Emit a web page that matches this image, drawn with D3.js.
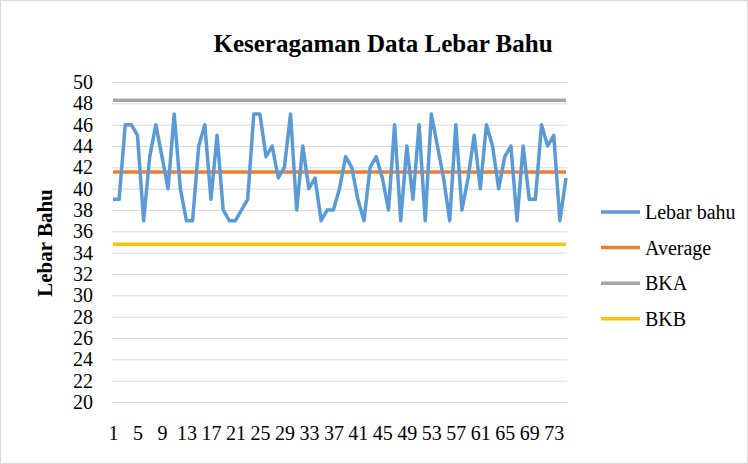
<!DOCTYPE html>
<html>
<head>
<meta charset="utf-8">
<script src="https://cdn.jsdelivr.net/npm/d3@7"></script>
<style>
  body { margin: 0; background: #fff; }
  svg text { font-family: "Liberation Serif", "Times New Roman", serif; fill: #000; }
</style>
</head>
<body>
<svg id="chart"></svg>
<script>
// data
const categories = [
  1, 2, 3, 4, 5, 6, 7, 8, 9, 10, 11, 12, 13, 14, 15, 16, 17, 18, 19, 20,
  21, 22, 23, 24, 25, 26, 27, 28, 29, 30, 31, 32, 33, 34, 35, 36, 37, 38, 39, 40,
  41, 42, 43, 44, 45, 46, 47, 48, 49, 50, 51, 52, 53, 54, 55, 56, 57, 58, 59, 60,
  61, 62, 63, 64, 65, 66, 67, 68, 69, 70, 71, 72, 73, 74, 75
];
const lebarBahu = [
  39, 39, 46, 46, 45, 37, 43, 46, 43, 40,
  47, 40, 37, 37, 44, 46, 39, 45, 38, 37,
  37, 38, 39, 47, 47, 43, 44, 41, 42, 47,
  38, 44, 40, 41, 37, 38, 38, 40, 43, 42,
  39, 37, 42, 43, 41, 38, 46, 37, 44, 39,
  46, 37, 47, 44, 41, 37, 46, 38, 41, 45,
  40, 46, 44, 40, 43, 44, 37, 44, 39, 39,
  46, 44, 45, 37, 41
];
const average = 41.56;
const bka = 48.3;
const bkb = 34.8;
const yTicks = [20, 22, 24, 26, 28, 30, 32, 34, 36, 38, 40, 42, 44, 46, 48, 50];
const xTickLabels = [1, 5, 9, 13, 17, 21, 25, 29, 33, 37, 41, 45, 49, 53, 57, 61, 65, 69, 73];

const series = [
  { name: 'Lebar bahu', color: '#5B9BD5', values: lebarBahu },
  { name: 'Average',    color: '#ED7D31', values: categories.map(() => average) },
  { name: 'BKA',        color: '#A5A5A5', values: categories.map(() => bka) },
  { name: 'BKB',        color: '#FFC000', values: categories.map(() => bkb) }
];

const W = 748, H = 464;
const plot = { left: 113, right: 566, top: 82, bottom: 402 };
const serif = '"Liberation Serif", "Times New Roman", serif';

const svg = d3.select('#chart').attr('width', W).attr('height', H);

svg.append('rect')
  .attr('x', 0.5).attr('y', 0.5)
  .attr('width', W - 1).attr('height', H - 1)
  .attr('fill', '#fff').attr('stroke', '#d9d9d9');

const x = d3.scalePoint().domain(categories).range([plot.left, plot.right]).padding(0);
const y = d3.scaleLinear().domain([20, 50]).range([plot.bottom, plot.top]);

// gridlines + y labels
const yAxis = svg.append('g')
  .attr('transform', `translate(${plot.left - 1},0)`)
  .call(d3.axisLeft(y).tickValues(yTicks).tickSize(-(plot.right - plot.left + 2)).tickPadding(19))
  .attr('font-family', serif);
yAxis.select('.domain').remove();
yAxis.selectAll('line').attr('stroke', '#d9d9d9').attr('stroke-width', 1);
yAxis.selectAll('text').style('font-size', '20px').attr('dy', '0.33em');

// x labels
const xAxis = svg.append('g')
  .attr('transform', `translate(0,${plot.bottom})`)
  .call(d3.axisBottom(x).tickValues(xTickLabels).tickSize(0).tickPadding(24))
  .attr('font-family', serif);
xAxis.select('.domain').remove();
xAxis.selectAll('text').style('font-size', '20px');

// lines
const line = d3.line()
  .x((d, i) => x(categories[i]))
  .y(d => y(d));

svg.append('g').selectAll('path')
  .data(series.slice().reverse())
  .enter()
  .append('path')
  .attr('d', d => line(d.values))
  .attr('fill', 'none')
  .attr('stroke', d => d.color)
  .attr('stroke-width', 3.5)
  .attr('stroke-linejoin', 'round');

// title
svg.append('text')
  .attr('x', 383).attr('y', 52)
  .attr('text-anchor', 'middle')
  .style('font-size', '25px')
  .style('font-weight', 'bold')
  .text('Keseragaman Data Lebar Bahu');

// y axis title
svg.append('text')
  .attr('transform', 'translate(52,243) rotate(-90)')
  .attr('text-anchor', 'middle')
  .style('font-size', '21px')
  .style('font-weight', 'bold')
  .text('Lebar Bahu');

// legend
const legend = svg.append('g');
const items = legend.selectAll('g')
  .data(series)
  .enter()
  .append('g')
  .attr('transform', (d, i) => `translate(601,${212 + i * 35.6})`);

items.append('line')
  .attr('x1', 0).attr('x2', 39)
  .attr('stroke', d => d.color)
  .attr('stroke-width', 3.5);

items.append('text')
  .attr('x', 44).attr('y', 7)
  .style('font-size', '20px')
  .text(d => d.name);
</script>
</body>
</html>
